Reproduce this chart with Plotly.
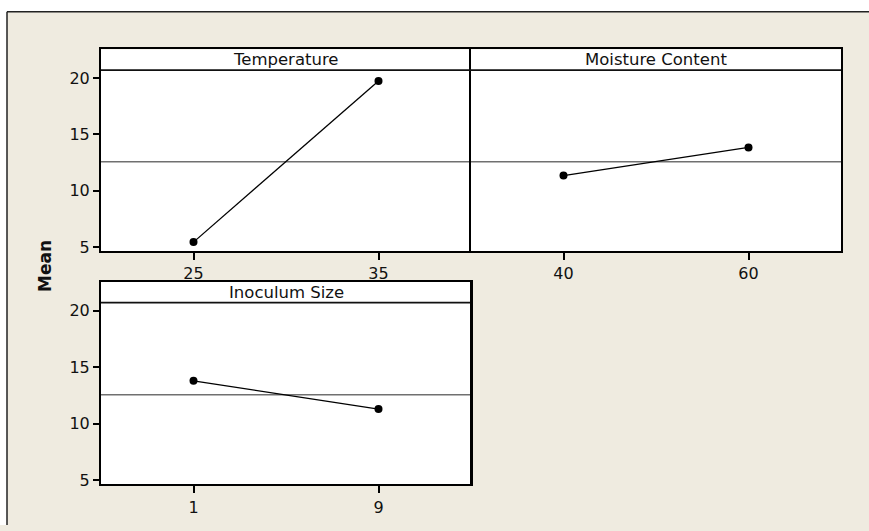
import plotly.graph_objects as go

W, H = 869, 531

# Main effects data (fitted means at each factor level)
factors = ["Temperature", "Moisture Content", "Inoculum Size"]
temp_levels = [25, 35]
temp_means = [5.45, 19.75]
moist_levels = [40, 60]
moist_means = [11.35, 13.85]
inoc_levels = [1, 9]
inoc_means = [13.8, 11.3]
grand_mean = 12.57
y_ticks = [5, 10, 15, 20]

panels = [
    (factors[0], temp_levels, temp_means),
    (factors[1], moist_levels, moist_means),
    (factors[2], inoc_levels, inoc_means),
]

# panel boxes in pixels: (left, right, top, bottom)
boxes = [(101, 471, 50, 254), (471, 841, 50, 254), (101, 471, 285, 490)]

Y_RANGE = [4.65, 22.54]
HEADER_Y = 20.7

BG = "#EFEBE0"
FONT = "DejaVu Sans"

fig = go.Figure()

for i, ((name, lv, mv), (l, r, t, b)) in enumerate(zip(panels, boxes)):
    k = "" if i == 0 else str(i + 1)
    xa, ya = "xaxis" + k, "yaxis" + k
    xr, yr = "x" + k, "y" + k
    d = lv[1] - lv[0]
    fig.add_trace(go.Scatter(
        x=lv, y=mv, mode="lines+markers", xaxis=xr, yaxis=yr,
        line=dict(color="black", width=1.3),
        marker=dict(color="black", size=8), showlegend=False,
        hoverinfo="skip"))
    fig.update_layout(**{
        xa: dict(domain=[l / W, r / W], range=[lv[0] - d / 2, lv[1] + d / 2],
                 tickvals=lv, ticks="outside", ticklen=7, tickwidth=1.5,
                 tickcolor="black", showline=True, mirror=True,
                 linecolor="black", linewidth=2, showgrid=False,
                 zeroline=False, anchor=yr,
                 tickfont=dict(family=FONT, size=16, color="#111")),
        ya: dict(domain=[1 - b / H, 1 - t / H], range=Y_RANGE,
                 tickvals=y_ticks, ticks="" if i == 1 else "outside",
                 showticklabels=(i != 1), ticklen=6, tickwidth=1.5,
                 tickcolor="black", showline=True,
                 # the left panel's right edge is drawn by its neighbour
                 mirror=(i != 0),
                 linecolor="black", linewidth=2, showgrid=False,
                 zeroline=False, anchor=xr,
                 tickfont=dict(family=FONT, size=16, color="#111")),
    })
    # grand mean reference line
    fig.add_shape(type="line", xref=xr + " domain", yref=yr,
                  x0=0, x1=1, y0=grand_mean, y1=grand_mean,
                  line=dict(color="#707070", width=1.5), layer="below")
    # header strip separator
    fig.add_shape(type="line", xref=xr + " domain", yref=yr,
                  x0=0, x1=1, y0=HEADER_Y, y1=HEADER_Y,
                  line=dict(color="#111", width=1.8))
    fig.add_annotation(text=name, xref=xr + " domain", yref=yr,
                       x=0.5, y=(HEADER_Y + Y_RANGE[1]) / 2,
                       xanchor="center", yanchor="middle", showarrow=False,
                       font=dict(family=FONT, size=16.5, color="#111"))

# panel 3 has no neighbour on its right, so draw its right edge explicitly
fig.add_shape(type="line", xref="x3 domain", yref="y3 domain",
              x0=1, x1=1, y0=0, y1=1, line=dict(color="black", width=2))

# white surround with the figure frame at top-left
fig.add_shape(type="rect", xref="paper", yref="paper",
              x0=0, x1=1, y0=1 - 12 / H, y1=1,
              fillcolor="white", line=dict(width=0))
fig.add_shape(type="rect", xref="paper", yref="paper",
              x0=0, x1=7 / W, y0=0, y1=1,
              fillcolor="white", line=dict(width=0))
fig.add_shape(type="line", xref="paper", yref="paper",
              x0=7 / W, x1=1, y0=1 - 12 / H, y1=1 - 12 / H,
              line=dict(color="#222", width=1.5))
fig.add_shape(type="line", xref="paper", yref="paper",
              x0=7 / W, x1=7 / W, y0=0, y1=1 - 12 / H,
              line=dict(color="#222", width=1.5))

fig.add_annotation(text="<b>Mean</b>", xref="paper", yref="paper",
                   x=45 / W, y=1 - 269 / H, textangle=-90,
                   xanchor="center", yanchor="middle", showarrow=False,
                   font=dict(family=FONT, size=17, color="#111"))

fig.update_layout(width=W, height=H, margin=dict(l=0, r=0, t=0, b=0),
                  paper_bgcolor=BG, plot_bgcolor="white", showlegend=False)

fig.write_html("out.html")
